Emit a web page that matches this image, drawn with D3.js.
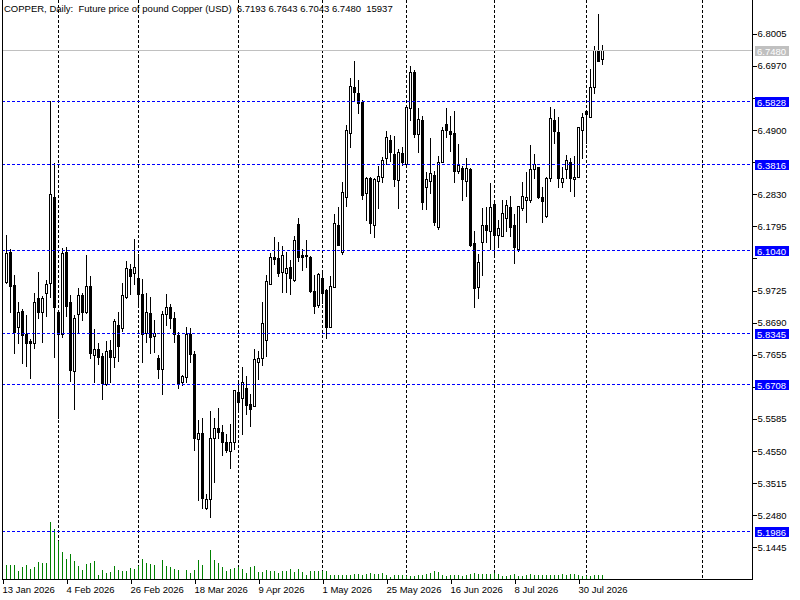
<!DOCTYPE html>
<html>
<head>
<meta charset="utf-8">
<script src="https://cdn.jsdelivr.net/npm/d3@7/dist/d3.min.js"></script>
<style>
  html, body { margin: 0; padding: 0; background: #ffffff; }
  svg { display: block; }
  text { font-family: "Liberation Sans", Arial, sans-serif; font-size: 9.5px; }
</style>
</head>
<body>
<svg id="chart" width="800" height="600"></svg>
<script>
// ---------------- DATA ----------------
const title = "COPPER, Daily:  Future price of pound Copper (USD)  6.7193 6.7643 6.7043 6.7480  15937";

const open = [
6.0011, 6.0978, 5.9903, 5.8560, 5.9065, 5.8313, 5.8098, 5.8022, 5.9495, 5.9022,
5.9635, 5.9957, 6.2730, 5.9022, 5.8313, 6.0956, 5.9344, 5.7130, 5.8979, 5.9581,
5.9043, 5.9860, 5.7646, 5.7840, 5.7614, 5.6722, 5.7797, 5.7593, 5.8614, 5.8528,
5.9527, 6.0419, 6.0280, 6.0118, 5.9603, 5.8345, 5.8990, 5.8270, 5.7539, 5.7185,
5.8958, 5.9194, 5.8829, 5.8292, 5.6765, 5.6948, 5.8313, 5.7668, 5.4938, 5.5121,
5.2724, 5.2992, 5.4959, 5.5303, 5.5174, 5.4852, 5.4551, 5.4830, 5.6464, 5.6249,
5.6593, 5.6055, 5.6012, 5.7431, 5.7538, 5.8140, 5.9924, 6.0795, 6.0762, 6.0333,
6.0290, 6.0483, 6.0064, 6.1859, 6.0870, 6.0871, 6.0795, 5.9721, 5.9259, 6.0118,
5.9742, 5.8538, 5.9850, 6.1838, 6.0978, 6.2751, 6.4815, 6.6276, 6.6104, 6.5814,
6.2859, 6.3342, 6.1849, 6.3267, 6.3396, 6.3987, 6.4578, 6.4127, 6.3289, 6.4170,
6.3793, 6.5620, 6.6759, 6.4782, 6.5212, 6.3051, 6.3256, 6.3449, 6.1783, 6.3857,
6.5083, 6.4868, 6.4792, 6.3589, 6.3664, 6.3256, 6.3643, 6.1246, 5.9849, 6.1300,
6.1837, 6.1654, 6.2503, 6.1515, 6.1493, 6.2073, 6.2417, 6.1837, 6.1063, 6.2396,
6.2643, 6.2643, 6.3632, 6.3696, 6.2750, 6.2138, 6.3342, 6.5222, 6.4825, 6.3234,
6.3642, 6.3857, 6.3309, 6.3374, 6.4900, 6.5512, 6.5330, 6.6276, 6.7447, 6.7193
];
const high = [
6.1515, 6.1064, 6.0226, 5.9344, 5.9129, 5.8936, 5.8162, 5.9635, 6.0312, 5.9549,
6.0054, 6.5836, 6.3826, 5.9097, 6.1107, 6.1128, 5.9581, 5.8936, 5.9817, 5.9635,
6.0870, 6.0193, 5.8485, 5.8022, 5.7700, 5.8098, 5.8120, 5.8797, 5.9022, 5.9957,
6.0677, 6.0570, 6.1387, 6.0892, 6.0097, 5.9635, 5.9527, 5.8775, 5.7647, 5.9065,
5.9603, 5.9302, 5.9022, 5.8399, 5.7002, 5.8560, 5.8506, 5.7776, 5.5551, 5.5626,
5.3154, 5.5840, 5.5604, 5.5926, 5.5389, 5.5088, 5.5410, 5.6507, 5.6808, 5.7248,
5.6958, 5.6378, 5.7839, 5.7775, 5.9344, 6.0225, 6.0924, 6.1450, 6.1278, 6.1171,
6.0977, 6.0709, 6.1483, 6.2052, 6.1063, 6.1354, 6.0838, 6.0226, 6.0301, 6.0387,
5.9764, 6.0194, 6.2192, 6.2429, 6.3235, 6.5062, 6.6567, 6.7136, 6.6513, 6.5868,
6.3396, 6.3396, 6.3342, 6.3740, 6.4020, 6.4879, 6.4740, 6.4707, 6.4277, 6.4363,
6.5706, 6.6963, 6.6834, 6.5598, 6.5351, 6.3535, 6.4631, 6.3578, 6.4072, 6.5007,
6.5620, 6.5351, 6.5513, 6.4438, 6.3750, 6.4008, 6.3664, 6.1644, 6.0891, 6.2396,
6.2428, 6.3180, 6.2632, 6.1998, 6.2632, 6.2643, 6.2783, 6.2181, 6.2450, 6.3213,
6.3535, 6.4416, 6.4115, 6.3718, 6.3073, 6.3395, 6.5631, 6.5577, 6.5330, 6.3718,
6.4094, 6.3986, 6.4072, 6.5007, 6.5437, 6.5512, 6.6867, 6.7608, 6.8640, 6.7643
];
const low = [
5.9980, 5.9043, 5.7700, 5.8022, 5.7399, 5.7302, 5.6916, 5.7883, 5.8850, 5.8076,
5.8914, 5.9527, 5.7593, 5.5604, 5.8237, 5.8914, 5.6808, 5.5905, 5.8399, 5.8775,
5.8990, 5.7539, 5.6765, 5.7345, 5.6228, 5.6680, 5.6765, 5.7271, 5.7453, 5.8420,
5.9495, 5.9613, 5.9936, 5.9237, 5.7432, 5.8077, 5.7722, 5.7754, 5.6916, 5.6379,
5.8614, 5.8528, 5.8055, 5.6572, 5.6680, 5.6787, 5.7410, 5.4584, 5.2972, 5.2703,
5.2681, 5.2434, 5.3540, 5.4959, 5.4422, 5.4529, 5.4013, 5.4615, 5.5819, 5.5088,
5.5733, 5.5367, 5.6012, 5.6872, 5.7324, 5.7624, 5.9924, 6.0591, 6.0204, 5.9688,
5.9688, 5.9623, 6.0032, 6.0677, 6.0386, 6.0494, 5.9688, 5.9011, 5.9205, 5.9312,
5.8184, 5.8538, 5.9828, 6.1193, 6.0903, 6.2450, 6.4363, 6.5868, 6.5438, 6.2665,
6.1999, 6.1591, 6.1462, 6.2375, 6.3235, 6.3805, 6.3912, 6.3095, 6.2375, 6.3772,
6.3750, 6.5222, 6.4685, 6.4180, 6.2353, 6.2342, 6.2858, 6.1837, 6.1708, 6.3857,
6.4685, 6.4223, 6.3234, 6.3503, 6.2643, 6.2772, 6.1170, 5.9204, 5.9473, 6.0225,
6.1300, 6.1063, 6.0838, 6.1117, 6.1493, 6.1644, 6.1493, 6.0601, 6.0999, 6.2321,
6.1944, 6.2589, 6.3363, 6.2697, 6.1923, 6.2106, 6.3256, 6.4470, 6.3073, 6.3073,
6.3342, 6.2933, 6.2783, 6.3374, 6.3986, 6.4470, 6.5330, 6.6082, 6.7125, 6.7043
];
const close = [
6.0924, 5.9882, 5.8399, 5.9022, 5.8291, 5.8022, 5.8022, 5.9344, 5.9043, 5.9495,
5.9925, 6.2826, 5.9205, 5.8313, 6.0924, 5.9237, 5.7163, 5.8829, 5.9581, 5.9043,
5.9860, 5.7722, 5.7840, 5.7593, 5.6733, 5.7776, 5.7593, 5.8743, 5.7948, 5.9581,
6.0441, 6.0204, 6.0473, 5.9603, 5.8313, 5.9022, 5.8238, 5.8345, 5.7185, 5.8958,
5.9194, 5.8829, 5.8313, 5.6722, 5.6959, 5.8313, 5.7668, 5.4960, 5.5121, 5.3025,
5.2992, 5.4981, 5.5303, 5.5174, 5.4852, 5.4583, 5.4852, 5.6507, 5.6141, 5.6786,
5.6034, 5.5905, 5.7517, 5.7538, 5.8667, 6.0032, 6.0795, 6.0741, 6.0290, 6.0870,
6.0440, 6.0139, 6.1354, 6.0816, 6.0816, 6.0828, 5.9721, 5.9226, 6.0258, 5.9656,
5.8560, 5.9871, 6.1892, 6.1193, 6.2913, 6.4901, 6.6319, 6.6137, 6.5760, 6.2805,
6.3342, 6.1913, 6.3310, 6.3418, 6.3934, 6.4664, 6.4202, 6.3332, 6.4202, 6.3880,
6.5652, 6.6759, 6.4782, 6.5255, 6.2589, 6.3309, 6.3503, 6.1944, 6.3879, 6.4889,
6.4889, 6.4782, 6.3589, 6.3772, 6.3320, 6.3664, 6.1192, 5.9817, 6.0633, 6.1837,
6.1676, 6.2428, 6.1515, 6.1730, 6.2213, 6.2482, 6.1783, 6.1138, 6.2450, 6.2783,
6.2729, 6.3632, 6.3814, 6.2750, 6.2622, 6.3363, 6.5276, 6.4878, 6.3342, 6.3342,
6.3922, 6.3342, 6.3395, 6.4986, 6.5330, 6.5405, 6.6276, 6.7468, 6.7125, 6.7480
];
const volume = [
56000, 56000, 56000, 33200, 48000, 56000, 40000, 48000, 68000, 64000,
64000, 228000, 201000, 152000, 109000, 81000, 101000, 72000, 52000, 37000,
60000, 64000, 72000, 16000, 36000, 25000, 28000, 52000, 37000, 32000,
32000, 44000, 40000, 52000, 80000, 64000, 60000, 56000, 2000, 76000,
52000, 48000, 40000, 36000, 2000, 36000, 25000, 36000, 76000, 56000,
2000, 116000, 76000, 64000, 48000, 33000, 40000, 44000, 48000, 40000,
25000, 48000, 52000, 28000, 28000, 36000, 32000, 32000, 25000, 32000,
32000, 40000, 28000, 40000, 28000, 16000, 32000, 32000, 32000, 32000,
32000, 16000, 16000, 16000, 16000, 16000, 16000, 20000, 20000, 16000,
20000, 24000, 20000, 20000, 24000, 16000, 8000, 16000, 16000, 16000,
12000, 12000, 12000, 16000, 16000, 20000, 24000, 32000, 28000, 16000,
12000, 16000, 16000, 16000, 12000, 16000, 20000, 24000, 20000, 20000,
20000, 20000, 24000, 20000, 12000, 12000, 16000, 20000, 12000, 12000,
16000, 20000, 16000, 16000, 16000, 16000, 16000, 16000, 16000, 20000,
16000, 20000, 20000, 16000, 12000, 12000, 12000, 16000, 16000, 15937
];

const priceTicks = [6.8005, 6.6970, 6.5935, 6.4900, 6.3865, 6.2830, 6.1795, 6.0760,
  5.9725, 5.8690, 5.7655, 5.6620, 5.5585, 5.4550, 5.3515, 5.2480, 5.1445];
const timeLabels = ["13 Jan 2026", "4 Feb 2026", "26 Feb 2026", "18 Mar 2026", "9 Apr 2026",
  "1 May 2026", "25 May 2026", "16 Jun 2026", "8 Jul 2026", "30 Jul 2026"];
const timeLabelBars = [-1, 15, 31, 47, 63, 79, 95, 111, 127, 143];
const gridBars = [13, 33, 58, 79, 100, 122, 145, 174];
const levels = [6.5828, 6.3816, 6.1040, 5.8345, 5.6708, 5.1986];
const lastPrice = 6.7480;

// ---------------- LAYOUT ----------------
const plotLeft = 2, plotRight = 752, plotBottom = 579;
const svg = d3.select("#chart");
svg.append("rect").attr("width", 800).attr("height", 600).attr("fill", "#ffffff");

const x = d3.scaleLinear().domain([-1, 186.5]).range([plotLeft, plotRight]);
const y = d3.scaleLinear().domain([5.1445, 6.8005]).range([547.3, 33.7]);
const yVol = d3.scaleLinear().domain([0, d3.max(volume)]).range([plotBottom, plotBottom - 57]);

const defs = svg.append("defs");
defs.append("clipPath").attr("id", "plotclip").append("rect")
  .attr("x", plotLeft + 1).attr("y", 0).attr("width", plotRight - plotLeft - 1).attr("height", plotBottom);

const plot = svg.append("g").attr("clip-path", "url(#plotclip)").attr("shape-rendering", "crispEdges");

// vertical grid
plot.append("g").selectAll("line").data(gridBars).join("line")
  .attr("x1", d => x(d) + 0.5).attr("x2", d => x(d) + 0.5)
  .attr("y1", 0).attr("y2", plotBottom)
  .attr("stroke", "#000").attr("stroke-width", 1).attr("stroke-dasharray", "3,2");

// volumes
const idx = d3.range(open.length);
plot.append("g").selectAll("rect").data(idx).join("rect")
  .attr("x", i => x(i)).attr("width", 1)
  .attr("y", i => Math.round(yVol(volume[i])))
  .attr("height", i => plotBottom - Math.round(yVol(volume[i])))
  .attr("fill", "#008000");

// candles
const cg = plot.append("g");
idx.forEach(i => {
  const cx = x(i);
  const yH = Math.round(y(high[i])), yL = Math.round(y(low[i]));
  const yO = Math.round(y(open[i])), yC = Math.round(y(close[i]));
  cg.append("rect").attr("x", cx).attr("y", yH).attr("width", 1)
    .attr("height", Math.max(1, yL - yH + 1)).attr("fill", "#000");
  const top = Math.min(yO, yC), bot = Math.max(yO, yC);
  if (close[i] > open[i]) {
    cg.append("rect").attr("x", cx - 0.5).attr("y", top + 0.5).attr("width", 2)
      .attr("height", Math.max(0, bot - top)).attr("fill", "#fff")
      .attr("stroke", "#000").attr("stroke-width", 1);
  } else {
    cg.append("rect").attr("x", cx - 1).attr("y", top).attr("width", 3)
      .attr("height", Math.max(1, bot - top + 1)).attr("fill", "#000");
  }
});

// level lines
plot.append("g").selectAll("line").data(levels).join("line")
  .attr("x1", plotLeft).attr("x2", plotRight)
  .attr("y1", d => Math.round(y(d)) + 0.5).attr("y2", d => Math.round(y(d)) + 0.5)
  .attr("stroke", "#0000ff").attr("stroke-width", 1).attr("stroke-dasharray", "3,2");

// last price line
plot.append("line")
  .attr("x1", plotLeft).attr("x2", plotRight)
  .attr("y1", Math.round(y(lastPrice)) + 0.5).attr("y2", Math.round(y(lastPrice)) + 0.5)
  .attr("stroke", "#c0c0c0").attr("stroke-width", 1);

// frame
const frame = svg.append("g").attr("shape-rendering", "crispEdges");
frame.append("line").attr("x1", plotLeft + 0.5).attr("x2", plotLeft + 0.5).attr("y1", 0).attr("y2", plotBottom + 1).attr("stroke", "#000");
frame.append("line").attr("x1", plotRight + 0.5).attr("x2", plotRight + 0.5).attr("y1", 0).attr("y2", plotBottom + 1).attr("stroke", "#000");
frame.append("line").attr("x1", plotLeft).attr("x2", plotRight + 1).attr("y1", plotBottom + 0.5).attr("y2", plotBottom + 0.5).attr("stroke", "#000");

// price axis (tick labels hidden where a level label covers them, as in the reference)
const covered = v => levels.concat([lastPrice]).some(l => Math.abs(y(l) - y(v)) < 9);
const yAxis = d3.axisRight(y).tickValues(priceTicks)
  .tickFormat(d => covered(d) ? "" : d3.format(".4f")(d)).tickSize(4).tickPadding(1);
const ya = svg.append("g").attr("transform", `translate(${plotRight + 0.5},0)`).call(yAxis);
ya.select(".domain").remove();
ya.selectAll(".tick line").attr("stroke", "#000").attr("shape-rendering", "crispEdges");
ya.selectAll(".tick text").attr("fill", "#000").style("font-family", "Liberation Sans, Arial, sans-serif").style("font-size", "9.5px");

// time axis
const xAxis = d3.axisBottom(x).tickValues(timeLabelBars).tickFormat((d, i) => timeLabels[i]).tickSize(4).tickPadding(3);
const xa = svg.append("g").attr("transform", `translate(0,${plotBottom + 0.5})`).call(xAxis);
xa.select(".domain").remove();
xa.selectAll(".tick line").attr("stroke", "#000").attr("shape-rendering", "crispEdges").attr("transform", "translate(0.5,0)");
xa.selectAll(".tick text").attr("fill", "#000").attr("text-anchor", "start").attr("x", 0)
  .style("font-family", "Liberation Sans, Arial, sans-serif").style("font-size", "9.5px");

// level labels
const lab = svg.append("g");
levels.forEach(v => {
  const yy = Math.round(y(v));
  lab.append("rect").attr("x", 755).attr("y", yy - 4).attr("width", 34).attr("height", 10)
    .attr("fill", "#0000ff").attr("shape-rendering", "crispEdges");
  lab.append("text").attr("x", 757).attr("y", yy + 4.5).attr("fill", "#fff").text(d3.format(".4f")(v));
});
{
  const yy = Math.round(y(lastPrice));
  lab.append("rect").attr("x", 755).attr("y", yy - 4).attr("width", 34).attr("height", 10)
    .attr("fill", "#c0c0c0").attr("shape-rendering", "crispEdges");
  lab.append("text").attr("x", 757).attr("y", yy + 4.5).attr("fill", "#fff").text(d3.format(".4f")(lastPrice));
}

// header
svg.append("text").attr("x", 4).attr("y", 12).attr("fill", "#000").attr("xml:space", "preserve")
  .style("white-space", "pre").text(title);
</script>
</body>
</html>
